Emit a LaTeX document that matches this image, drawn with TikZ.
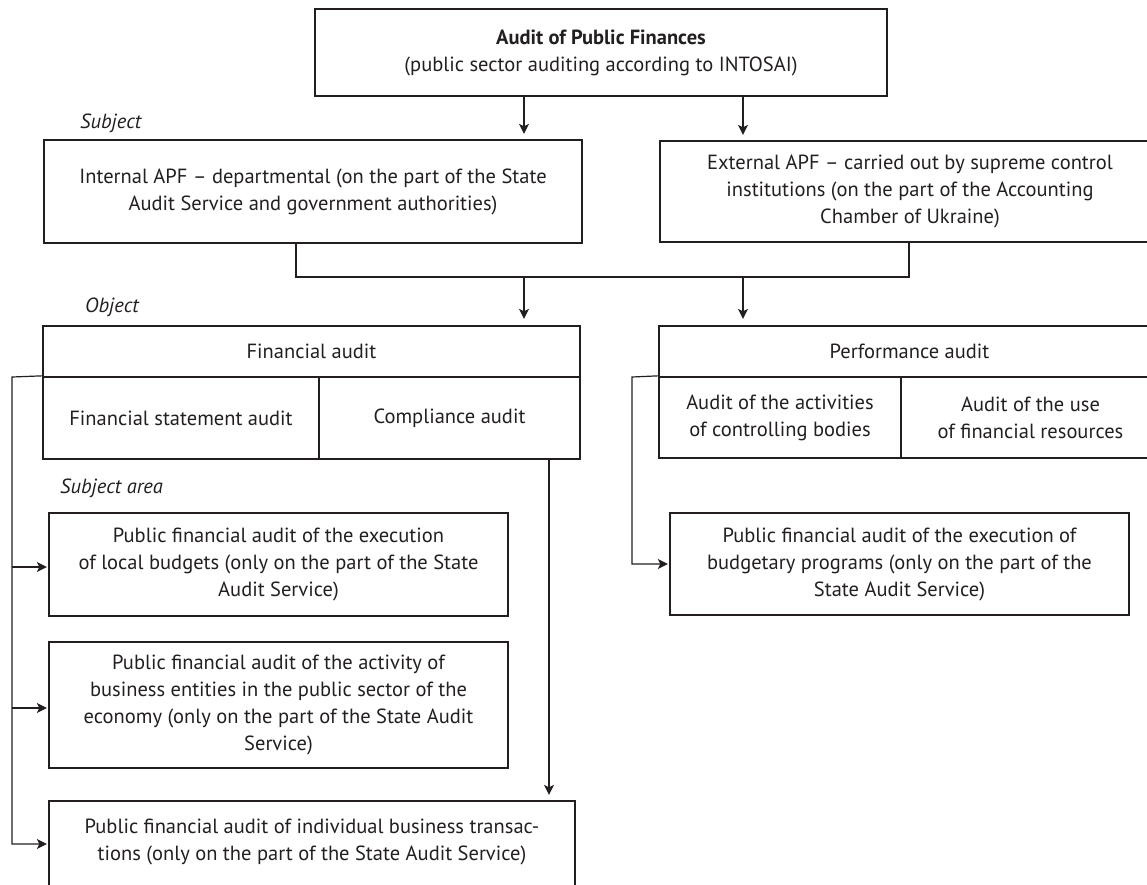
\documentclass[tikz,border=0pt]{standalone}
\usepackage{fontspec}
\setmainfont{PT Sans}
\usetikzlibrary{arrows.meta}
\definecolor{ink}{HTML}{231F20}
\begin{document}
\begin{tikzpicture}[x=1pt,y=-1pt,
  every node/.style={font=\fontsize{20.5}{27}\selectfont, text=ink},
  box/.style={draw=ink, line width=2.3pt, inner sep=0pt, align=center},
  txt/.style={align=center, inner sep=0pt},
  conn/.style={draw=ink, line width=1.2pt},
  arr/.style={conn, -{Stealth[length=10pt,width=10pt,inset=2.5pt]}},
  lab/.style={font=\fontsize{20.5}{27}\selectfont\itshape, anchor=west, inner sep=0pt}]
\useasboundingbox (0,0) rectangle (1147,884);
\clip (0,0) rectangle (1147,884);
% top box
\node[box, minimum width=572pt, minimum height=87pt] (top) at (601,52.5)
  {{\bfseries Audit of Public Finances}\\(public sector auditing according to INTOSAI)};
\node[lab] (lsubj) at (80,123) {Subject};
\node[box, minimum width=538pt, minimum height=103pt] (int) at (313,191.5)
  {Internal APF -- departmental (on the part of the State\\Audit Service and government authorities)};
\node[box, minimum width=500pt, minimum height=101pt] (ext) at (910,191.5)
  {External APF -- carried out by supreme control\\institutions (on the part of the Accounting\\Chamber of Ukraine)};
\node[lab] (lobj) at (85,307) {Object};
% financial audit
\node[box, minimum width=537pt, minimum height=51pt] (fa) at (311.5,351.5) {Financial audit};
\node[box, minimum width=276pt, minimum height=82pt] (fsa) at (181,418) {Financial statement audit};
\node[box, minimum width=261pt, minimum height=82pt] (ca) at (449.5,418) {Compliance audit};
% performance audit
\node[box, minimum width=501pt, minimum height=51pt] (pf) at (909.5,351.5) {Performance audit};
\node[box, minimum width=242pt, minimum height=81pt] (aoa) at (780,417.5) {Audit of the activities\\of controlling bodies};
\node[box, minimum width=259pt, minimum height=81pt] (aou) at (1030.5,417.5) {Audit of the use\\of financial resources};
\node[lab] (lsa) at (60,488) {Subject area};
% subject area boxes
\node[box, minimum width=459pt, minimum height=103pt] (s1) at (278.5,564.5)
  {Public financial audit of the execution\\of local budgets (only on the part of the State\\Audit Service)};
\node[box, minimum width=459pt, minimum height=126pt] (s2) at (278.5,705)
  {Public financial audit of the activity of\\business entities in the public sector of the\\economy (only on the part of the State Audit\\Service)};
\node[box, minimum width=526pt, minimum height=90pt] (s3) at (312,846) {};
\node[txt] (s3t) at (312,841.5)
  {Public financial audit of individual business transac-\\tions (only on the part of the State Audit Service)};
\node[box, minimum width=459pt, minimum height=102pt] (p1) at (899.5,564)
  {Public financial audit of the execution of\\budgetary programs (only on the part of the\\State Audit Service)};
% connectors
\draw[arr, shorten >=5pt] ([xshift=-77pt]top.south) -- ([xshift=-77pt]top.south |- int.north);
\draw[arr, shorten >=5pt] ([xshift=142pt]top.south) -- ([xshift=142pt]top.south |- ext.north);
\coordinate (bar1) at (524,277);
\coordinate (bar2) at (743,277);
\draw[conn] ([xshift=-17pt]int.south) |- (bar1) -- (bar2) -| ([xshift=-1pt]ext.south);
\draw[arr, shorten >=6pt] (bar1) -- (bar1 |- fa.north);
\draw[arr, shorten >=6pt] (bar2) -- (bar2 |- pf.north);
\coordinate (lt) at (12,377);
\draw[arr, shorten >=1pt] (fsa.north west) -- (lt) |- (s3.west |- 0,844);
\draw[arr, shorten >=1pt] (lt |- 0,567) -- (s1.west |- 0,567);
\draw[arr, shorten >=1pt] (lt |- 0,708) -- (s2.west |- 0,708);
\draw[arr, shorten >=5pt] ([xshift=99.5pt]ca.south) -- ([xshift=99.5pt]ca.south |- s3.north);
\coordinate (rt) at (632,377);
\draw[arr, shorten >=1pt] (aoa.north west) -- (rt) |- (p1.west);
\end{tikzpicture}
\end{document}
